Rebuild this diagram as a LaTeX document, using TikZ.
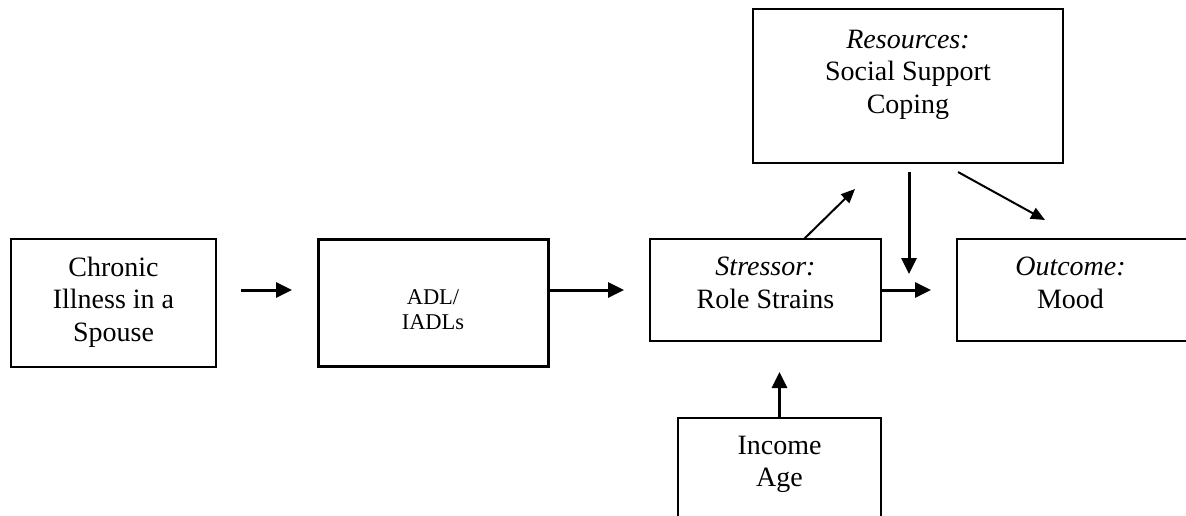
\documentclass[tikz,border=0pt]{standalone}
\usepackage{fontspec}
\setmainfont{Liberation Serif}
\usetikzlibrary{arrows.meta,calc}
\begin{document}
\begin{tikzpicture}[x=1pt,y=-1pt,
  box/.style={draw=black,line width=2pt,rectangle,inner sep=0pt,outer sep=0pt},
  thickbox/.style={box,line width=3pt},
  txt/.style={align=center,inner sep=0pt,outer sep=0pt,anchor=north,font=\fontsize{28}{32.5}\selectfont},
  smalltxt/.style={txt,font=\fontsize{22.5}{25.5}\selectfont},
  arr/.style={line width=3pt,-{Triangle[length=16pt,width=15pt]}},
  thinarr/.style={line width=2pt,-{Triangle[length=14pt,width=12pt]}}]
\useasboundingbox (0,0) rectangle (1186,516);
\clip (0,0) rectangle (1186,516);
% boxes
\node[box,minimum width=205pt,minimum height=128pt] (chronic) at (113.5,303) {};
\node[thickbox,minimum width=230pt,minimum height=127pt] (adl) at (433,302.5) {};
\node[box,minimum width=231pt,minimum height=102pt] (stressor) at (765.5,290) {};
\node[box,minimum width=231pt,minimum height=102pt] (outcome) at (1072.5,290) {};
\node[box,minimum width=310pt,minimum height=154pt] (resources) at (908,86) {};
\node[box,minimum width=203pt,minimum height=102pt] (income) at (779.5,469) {};
% texts
\node[txt] (chronic-t) at ([yshift=-18pt]chronic.north) {Chronic\\Illness in a\\Spouse};
\node[smalltxt] (adl-t) at ([yshift=-50.5pt]adl.north) {ADL/\\IADLs};
\node[txt] (stressor-t) at ([yshift=-18pt]stressor.north) {\textit{Stressor:}\\Role Strains};
\node[txt] (outcome-t) at ([xshift=-2pt,yshift=-18pt]outcome.north) {\textit{Outcome:}\\Mood};
\node[txt] (resources-t) at ([yshift=-21pt]resources.north) {\textit{Resources:}\\Social Support\\Coping};
\node[txt] (income-t) at ([yshift=-18pt]income.north) {Income\\Age};
% free ends
\coordinate (modtip) at (909,274);
\coordinate (srtip) at (855,189);
\coordinate (rotip) at (1045,220);
% connectors
\draw[arr,shorten <=25pt,shorten >=26pt] ([yshift=13pt]chronic.east) -- ([yshift=13pt]chronic.east -| adl.west);
\draw[arr,shorten >=26pt] ([yshift=12.5pt]adl.east) -- (stressor.west);
\draw[arr,shorten >=26pt] (stressor.east) -- (outcome.west);
\draw[arr,shorten >=31pt] (income.north) -- (income.north |- stressor.south);
\draw[arr] ([xshift=1pt,yshift=-9pt]resources.south) -- (modtip);
\draw[thinarr] ([xshift=38.5pt]stressor.north) -- (srtip);
\draw[thinarr] ([xshift=50pt,yshift=-9pt]resources.south) -- (rotip);
\end{tikzpicture}
\end{document}
